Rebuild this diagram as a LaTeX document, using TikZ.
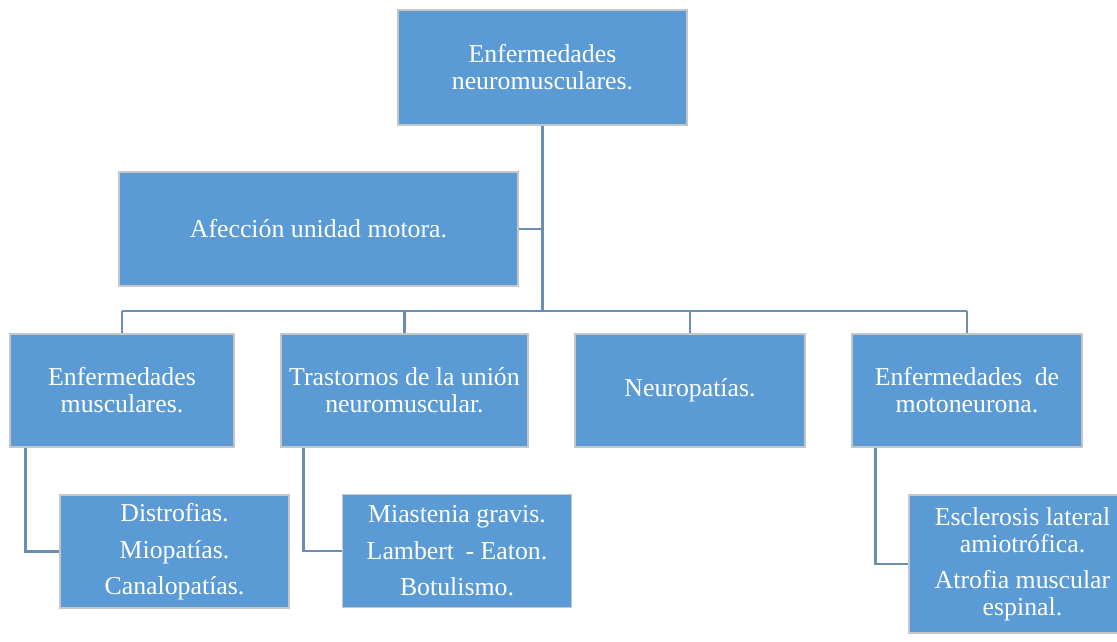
\documentclass[tikz,border=0pt]{standalone}
\usepackage{fontspec}
\setmainfont{Liberation Serif}
\definecolor{boxfill}{HTML}{5B9BD5}
\definecolor{boxline}{HTML}{C6C6C6}
\definecolor{conn}{HTML}{6A8EB2}
\begin{document}
\begin{tikzpicture}[x=1pt,y=-1pt,
  cbox/.style={draw=boxline,fill=boxfill,line width=1.4pt,text=white,align=center,
    inner sep=0pt,font=\fontsize{25.8}{27}\selectfont},
  link/.style={draw=conn,line width=2.4pt}]
\useasboundingbox (0,0) rectangle (1117,641);
\clip (0,0) rectangle (1117,641);
\node[cbox,minimum width=289pt,minimum height=115pt] (top) at (542.5,67.5) {Enfermedades\\neuromusculares.};
\node[cbox,minimum width=399pt,minimum height=114pt] (aff) at (318.5,229) {Afección unidad motora.};
\node[cbox,minimum width=224pt,minimum height=113pt] (musc) at (122,390.5) {Enfermedades\\musculares.};
\node[cbox,minimum width=247pt,minimum height=113pt] (tras) at (404.5,390.5) {Trastornos de la unión\\neuromuscular.};
\node[cbox,minimum width=230pt,minimum height=113pt] (neuro) at (690,390.5) {Neuropatías.};
\node[cbox,minimum width=230pt,minimum height=113pt] (moto) at (967,390.5) {Enfermedades\hspace{6pt} de\\motoneurona.};
\node[cbox,minimum width=229pt,minimum height=113pt] (dist) at (174.5,551.5) {Distrofias.\\[10pt]Miopatías.\\[9pt]Canalopatías.};
\node[cbox,minimum width=229pt,minimum height=113pt] (mias) at (457,551) {Miastenia gravis.\\[10pt]Lambert\hspace{5pt} - Eaton.\\[9pt]Botulismo.};
\node[cbox,minimum width=227pt,minimum height=138pt] (escl) at (1022.5,564) {Esclerosis lateral\\amiotrófica.\\[9pt]Atrofia muscular\\espinal.};
\coordinate (bus) at (543,311);
% connectors
\draw[link] (top.south) -- (top.south |- bus);
\draw[link] (aff.east) -- (aff.east -| top.south);
\draw[link] (musc.north |- bus) -- (moto.north |- bus);
\draw[link] (musc.north) -- (musc.north |- bus);
\draw[link] (tras.north) -- (tras.north |- bus);
\draw[link] (neuro.north) -- (neuro.north |- bus);
\draw[link] (moto.north) -- (moto.north |- bus);
\draw[link] ([xshift=16pt]musc.south west) |- (dist.west);
\draw[link] ([xshift=23pt]tras.south west) |- (mias.west);
\draw[link] ([xshift=24pt]moto.south west) |- (escl.west);
\end{tikzpicture}
\end{document}
